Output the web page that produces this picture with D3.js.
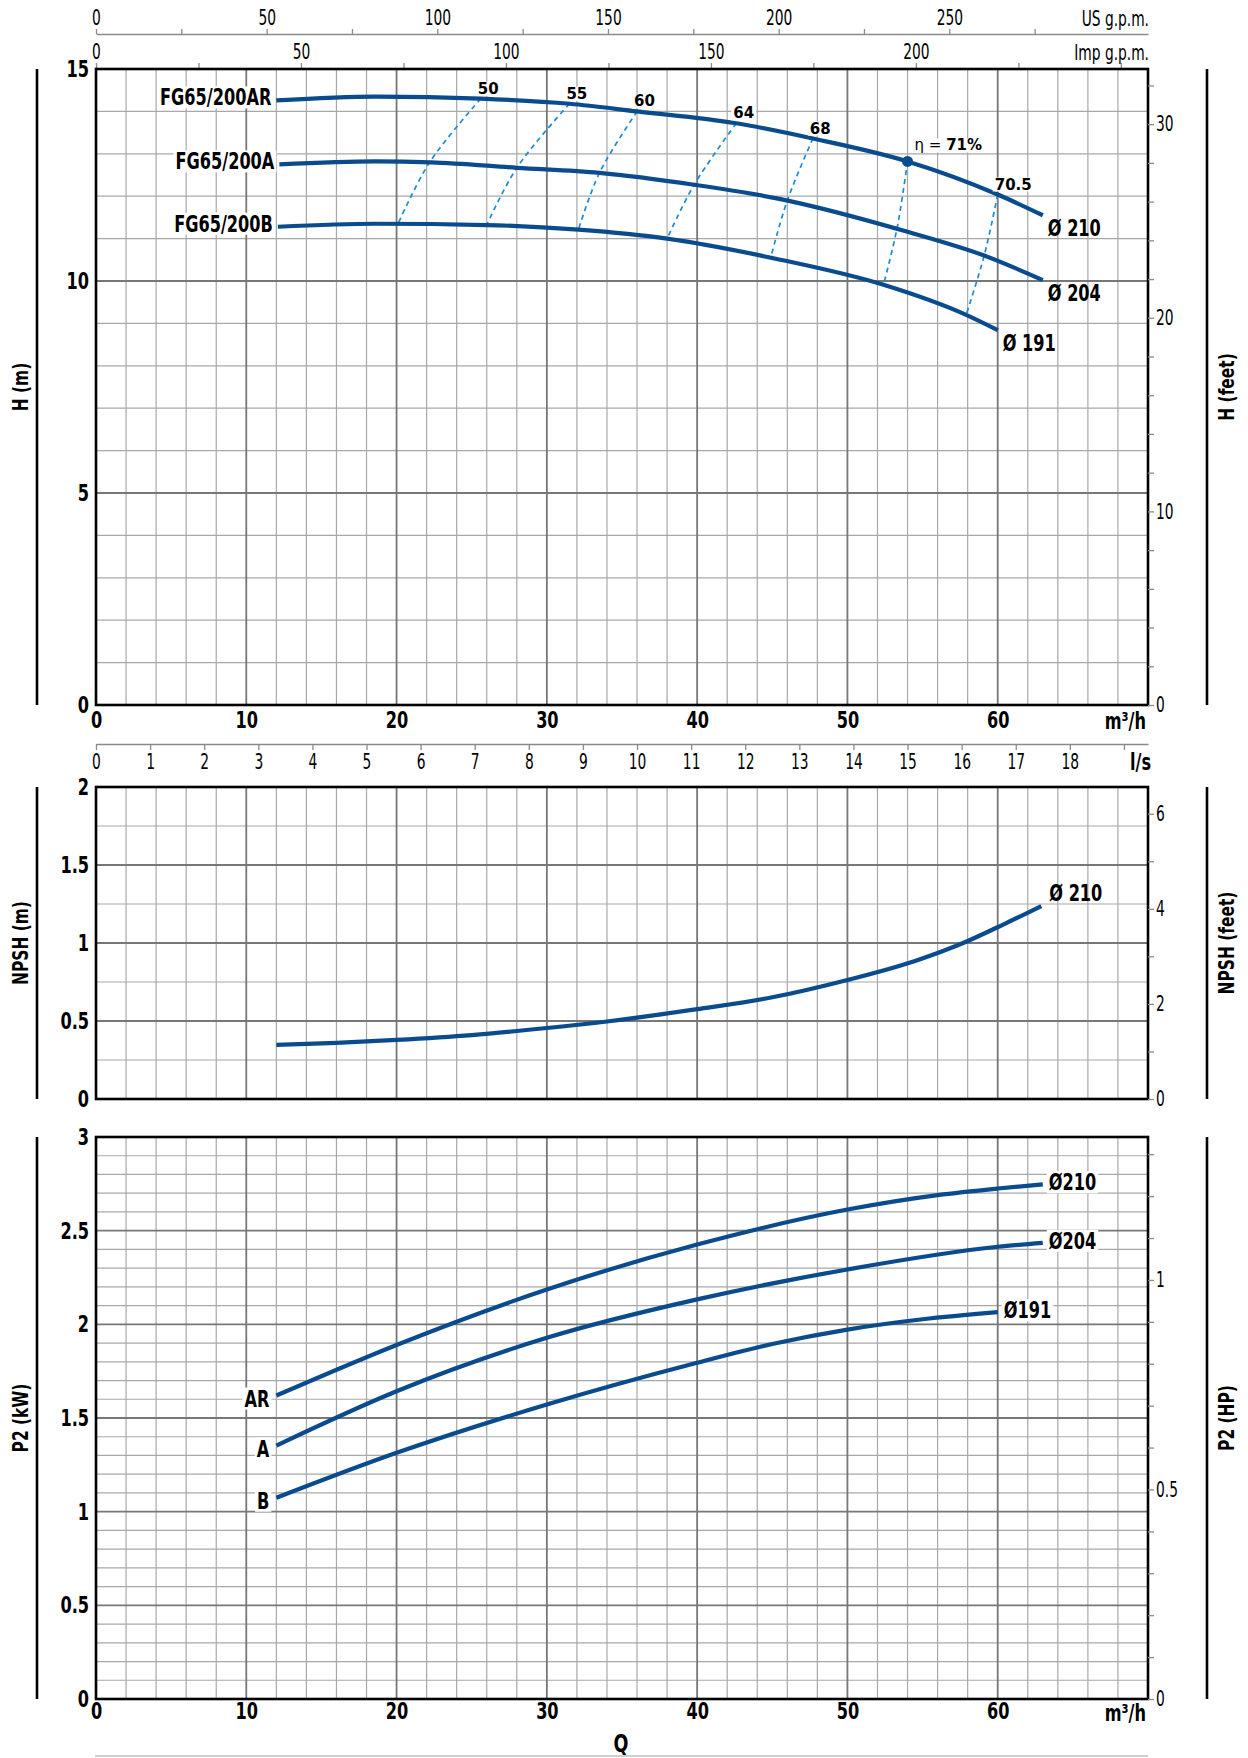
<!DOCTYPE html>
<html>
<head>
<meta charset="utf-8">
<script src="https://cdn.jsdelivr.net/npm/d3@7"></script>
<style>
  body { margin: 0; background: #fff; }
  svg { display: block; }
</style>
</head>
<body>
<div id="chart"></div>
<script>
// ------------------------------------------------ data
// flow axis labels
const qLabels = [0, 10, 20, 30, 40, 50, 60];
const usGpmLabels = [0, 50, 100, 150, 200, 250];
const impGpmLabels = [0, 50, 100, 150, 200];
const lsLabels = d3.range(0, 19);
const hLabels = [0, 5, 10, 15];
const hFtLabels = [0, 10, 20, 30];
const npshLabels = [0, 0.5, 1, 1.5, 2];
const npshFtLabels = [0, 2, 4, 6];
const p2Labels = [0, 0.5, 1, 1.5, 2, 2.5, 3];
const p2HpLabels = [0, 0.5, 1];

// head curves H (m) vs Q (m3/h)
const hQ210 = [12, 18.6, 25.6, 31.5, 36, 42.6, 47.7, 54, 60, 63];
const hH210 = [14.26, 14.35, 14.30, 14.18, 14.0, 13.72, 13.36, 12.82, 12.04, 11.55];
const hQ204 = [12.2, 18.6, 22.3, 28, 33.5, 39.8, 45.3, 54, 59.1, 63];
const hH204 = [12.75, 12.82, 12.80, 12.67, 12.55, 12.27, 11.95, 11.16, 10.6, 10.02];
const hQ191 = [12.1, 18.6, 26, 32.1, 38, 45.3, 52.4, 57.9, 60];
const hH191 = [11.28, 11.35, 11.32, 11.21, 11.0, 10.52, 9.91, 9.2, 8.84];

// iso-efficiency lines: points on 210 / 204 / 191
const effLabels = ["50", "55", "60", "64", "68", "71", "70.5"];
const effQ = [[25.6, 22.2, 20.1], [31.5, 28.0, 26.0], [36.0, 33.5, 32.1], [42.6, 39.8, 38.0],
              [47.7, 46.0, 44.9], [54.0, 53.3, 52.4], [60.0, 59.1, 57.9]];
const effH = [[14.30, 12.80, 11.35], [14.18, 12.67, 11.32], [14.0, 12.55, 11.21], [13.72, 12.27, 11.0],
              [13.36, 11.90, 10.56], [12.82, 11.24, 9.91], [12.04, 10.6, 9.2]];

// NPSH (m)
const npshQ = [12, 16, 20, 25, 30, 34, 40, 45, 50, 54.5, 57.7, 60.4, 62.9];
const npshV = [0.347, 0.36, 0.379, 0.41, 0.455, 0.497, 0.576, 0.652, 0.763, 0.885, 1.0, 1.12, 1.237];

// P2 (kW)
const pQ210 = [12, 20, 30, 40, 50, 56, 60, 63];
const pV210 = [1.62, 1.89, 2.186, 2.426, 2.613, 2.69, 2.725, 2.747];
const pQ204 = [12, 20, 30, 40, 50, 60, 63];
const pV204 = [1.353, 1.643, 1.928, 2.133, 2.293, 2.414, 2.435];
const pQ191 = [12, 20, 30, 40, 45, 50, 55, 60];
const pV191 = [1.074, 1.314, 1.572, 1.795, 1.895, 1.972, 2.027, 2.065];

// ------------------------------------------------ setup
const cond = "'Liberation Sans Narrow', 'Arial Narrow', 'DejaVu Sans Condensed', sans-serif";
const wide = "'DejaVu Sans', Verdana, sans-serif";
const blue = "#0a4b8e";
const lightBlue = "#1b8bd3";

const svg = d3.select("#chart")
  .append("svg")
    .attr("width", 1248)
    .attr("height", 1758);

// scales
const x = d3.scaleLinear().domain([0, 70]).range([96, 1148]);
const usScale = d3.scaleLinear().domain([0, 70 * 4.403]).range([96, 1148]);
const impScale = d3.scaleLinear().domain([0, 70 * 3.666]).range([96, 1148]);
const lsScale = d3.scaleLinear().domain([0, 70 / 3.6]).range([96, 1148]);

const yH = d3.scaleLinear().domain([0, 15]).range([705, 69]);
const yHft = d3.scaleLinear().domain([0, 15 * 2.19]).range([705, 69]);
const yN = d3.scaleLinear().domain([0, 2]).range([1099, 787]);
const yNft = d3.scaleLinear().domain([0, 2 * 3.281]).range([1099, 787]);
const yP = d3.scaleLinear().domain([0, 3]).range([1699, 1137]);
const yPhp = d3.scaleLinear().domain([0, 3 / 2.237]).range([1699, 1137]);

// white boxes behind labels, fitted once the text is squeezed
const boxes = [];

// ------------------------------------------------ helpers
function drawGrid(y, step, majorEvery) {
  const g = svg.append("g");
  const [bottom, top] = y.range();
  const n = Math.round(y.domain()[1] / step);
  const rows = d3.range(1, n).map(i => ({v: i * step, major: i % majorEvery === 0}));
  const cols = d3.range(1, 35).map(i => ({v: i * 2, major: i % 5 === 0}));
  [false, true].forEach(function(maj) {
    g.selectAll(null)
      .data(cols.filter(d => d.major === maj))
      .join("line")
        .attr("x1", d => x(d.v)).attr("x2", d => x(d.v))
        .attr("y1", top).attr("y2", bottom)
        .attr("stroke", maj ? "#777" : "#a8a8a8")
        .attr("stroke-width", maj ? 1.8 : 1.2);
    g.selectAll(null)
      .data(rows.filter(d => d.major === maj))
      .join("line")
        .attr("x1", x(0)).attr("x2", x(70))
        .attr("y1", d => y(d.v)).attr("y2", d => y(d.v))
        .attr("stroke", maj ? "#777" : "#a8a8a8")
        .attr("stroke-width", maj ? 1.8 : 1.2);
  });
}

function drawFrame(y) {
  const [bottom, top] = y.range();
  svg.append("rect")
    .attr("x", x(0)).attr("y", top)
    .attr("width", x(70) - x(0)).attr("height", bottom - top)
    .attr("fill", "none").attr("stroke", "#000").attr("stroke-width", 2.6);
  // the side bars
  [37, 1207].forEach(function(sx) {
    svg.append("line")
      .attr("x1", sx).attr("x2", sx).attr("y1", top).attr("y2", bottom)
      .attr("stroke", "#000").attr("stroke-width", 2.6);
  });
}

function styleAxis(g, family, weight, size) {
  g.attr("font-family", family).attr("font-size", size).attr("font-weight", weight);
  g.selectAll(".tick line").attr("stroke", "#8a8a8a").attr("stroke-width", 1.3);
  g.selectAll("text").attr("fill", "#000");
}

function leftAxis(y, vals) {
  svg.append("g")
    .attr("transform", "translate(89,0)")
    .call(d3.axisLeft(y).tickValues(vals).tickSize(0).tickPadding(0).tickFormat(d => d))
    .call(g => g.select(".domain").remove())
    .call(g => styleAxis(g, cond, "bold", 23));
}

function rightAxis(y, ticks, labels) {
  svg.append("g")
    .attr("transform", "translate(1148,0)")
    .call(d3.axisRight(y).tickValues(ticks).tickSize(6).tickPadding(2)
      .tickFormat(d => labels.some(l => Math.abs(l - d) < 1e-6) ? d : ""))
    .call(g => g.select(".domain").remove())
    .call(g => styleAxis(g, cond, "normal", 21));
}

function axisTitle(px, py, txt, size) {
  svg.append("text")
    .attr("transform", `translate(${px},${py}) rotate(-90)`)
    .attr("text-anchor", "middle")
    .attr("dominant-baseline", "central")
    .attr("font-family", cond).attr("font-weight", "bold").attr("font-size", size)
    .text(txt);
}

function boxedText(px, py, txt, anchor, family, size, weight) {
  const g = svg.append("g");
  const r = g.append("rect").attr("fill", "#fff");
  const t = g.append("text")
    .attr("x", px).attr("y", py)
    .attr("text-anchor", anchor)
    .attr("dominant-baseline", "central")
    .attr("font-family", family).attr("font-size", size).attr("font-weight", weight)
    .text(txt);
  boxes.push([r, t]);
  return t;
}

function curveLine(y, curve) {
  return d3.line().x(d => x(d[0])).y(d => y(d[1])).curve(curve || d3.curveMonotoneX);
}

// ------------------------------------------------ top: gpm scales
svg.append("g")
  .attr("transform", "translate(0,34)")
  .call(d3.axisTop(usScale).tickValues(d3.range(0, 300, 25)).tickSize(5).tickSizeOuter(0).tickPadding(4)
    .tickFormat(d => usGpmLabels.includes(d) ? d : ""))
  .call(g => g.select(".domain").attr("stroke", "#8a8a8a").attr("stroke-width", 1.3))
  .call(g => styleAxis(g, cond, "normal", 21));

svg.append("g")
  .attr("transform", "translate(0,69)")
  .call(d3.axisTop(impScale).tickValues(d3.range(0, 275, 25)).tickSize(6).tickPadding(4)
    .tickFormat(d => impGpmLabels.includes(d) ? d : ""))
  .call(g => g.select(".domain").remove())
  .call(g => styleAxis(g, cond, "normal", 21));

svg.append("text").attr("x", 1149).attr("y", 25.5).attr("text-anchor", "end")
  .attr("font-family", cond).attr("font-size", 21).text("US g.p.m.");
svg.append("text").attr("x", 1149).attr("y", 59.5).attr("text-anchor", "end")
  .attr("font-family", cond).attr("font-size", 21).text("Imp g.p.m.");

// ------------------------------------------------ H chart
drawGrid(yH, 1, 5);

// efficiency lines (dashed)
const effLine = curveLine(yH, d3.curveCatmullRom);
effQ.forEach(function(qs, i) {
  svg.append("path")
    .datum(d3.zip(qs, effH[i]))
    .attr("d", effLine)
    .attr("fill", "none")
    .attr("stroke", lightBlue)
    .attr("stroke-width", 1.7)
    .attr("stroke-dasharray", "5,4");
});

const headCurves = [
  {tag: "FG65/200AR", dia: "Ø 210", q: hQ210, v: hH210},
  {tag: "FG65/200A", dia: "Ø 204", q: hQ204, v: hH204},
  {tag: "FG65/200B", dia: "Ø 191", q: hQ191, v: hH191}
];

headCurves.forEach(function(c) {
  const pts = d3.zip(c.q, c.v);
  svg.append("path")
    .datum(pts)
    .attr("d", curveLine(yH))
    .attr("fill", "none")
    .attr("stroke", blue)
    .attr("stroke-width", 4.2);
  const first = pts[0], last = pts[pts.length - 1];
  boxedText(x(first[0]) - 5, yH(first[1]) - 3, c.tag, "end", cond, 23, "bold");
  svg.append("text")
    .attr("x", x(last[0]) + 5).attr("y", yH(last[1]) + 13)
    .attr("dominant-baseline", "central")
    .attr("font-family", cond).attr("font-size", 23).attr("font-weight", "bold")
    .text(c.dia);
});

// efficiency labels
effLabels.forEach(function(lab, i) {
  const px = x(effQ[i][0]), py = yH(effH[i][0]);
  if (lab === "71") {
    const t = boxedText(px + 7, py - 16, "", "start", wide, 15, "bold");
    t.append("tspan").attr("font-weight", "normal").text("η = ");
    t.append("tspan").text("71%");
    svg.append("circle")
      .attr("cx", px).attr("cy", py).attr("r", 5.5)
      .attr("fill", blue);
  } else {
    boxedText(px - 3, py - 10, lab, "start", wide, 15, "bold");
  }
});

drawFrame(yH);
leftAxis(yH, hLabels);
rightAxis(yHft, d3.range(0, 33, 2), hFtLabels);

// x axis m3/h
svg.append("g")
  .attr("transform", "translate(0,705)")
  .call(d3.axisBottom(x).tickValues(qLabels).tickSize(0).tickPadding(7).tickFormat(d => d))
  .call(g => g.select(".domain").remove())
  .call(g => styleAxis(g, cond, "bold", 23));
svg.append("text").attr("x", 1146).attr("y", 729).attr("text-anchor", "end")
  .attr("font-family", cond).attr("font-size", 23).attr("font-weight", "bold").text("m³/h");

axisTitle(20, 387, "H (m)", 22);
axisTitle(1226, 387, "H (feet)", 22);

// l/s scale
svg.append("g")
  .attr("transform", "translate(0,744)")
  .call(d3.axisBottom(lsScale).tickValues(d3.range(0, 20)).tickSize(6).tickSizeOuter(0).tickPadding(4)
    .tickFormat(d => lsLabels.includes(d) ? d : ""))
  .call(g => g.select(".domain").attr("stroke", "#8a8a8a").attr("stroke-width", 1.3))
  .call(g => styleAxis(g, cond, "normal", 21));
svg.append("text").attr("x", 1151).attr("y", 770).attr("text-anchor", "end")
  .attr("font-family", cond).attr("font-size", 23).attr("font-weight", "bold").text("l/s");

// ------------------------------------------------ NPSH chart
drawGrid(yN, 0.25, 2);
const npshPts = d3.zip(npshQ, npshV);
svg.append("path")
  .datum(npshPts)
  .attr("d", curveLine(yN))
  .attr("fill", "none")
  .attr("stroke", blue)
  .attr("stroke-width", 4.2);
const nLast = npshPts[npshPts.length - 1];
svg.append("text")
  .attr("x", x(nLast[0]) + 8).attr("y", yN(nLast[1]) - 13)
  .attr("dominant-baseline", "central")
  .attr("font-family", cond).attr("font-size", 23).attr("font-weight", "bold")
  .text("Ø 210");

drawFrame(yN);
leftAxis(yN, npshLabels);
rightAxis(yNft, d3.range(0, 7), npshFtLabels);
axisTitle(20, 943, "NPSH (m)", 22);
axisTitle(1226, 943, "NPSH (feet)", 22);

// ------------------------------------------------ P2 chart
drawGrid(yP, 0.1, 5);

const powerCurves = [
  {tag: "AR", dia: "Ø210", q: pQ210, v: pV210},
  {tag: "A", dia: "Ø204", q: pQ204, v: pV204},
  {tag: "B", dia: "Ø191", q: pQ191, v: pV191}
];

powerCurves.forEach(function(c) {
  const pts = d3.zip(c.q, c.v);
  svg.append("path")
    .datum(pts)
    .attr("d", curveLine(yP))
    .attr("fill", "none")
    .attr("stroke", blue)
    .attr("stroke-width", 4.2);
  const first = pts[0], last = pts[pts.length - 1];
  boxedText(x(first[0]) - 7, yP(first[1]) + 3, c.tag, "end", cond, 23, "bold");
  boxedText(x(last[0]) + 6, yP(last[1]) - 2, c.dia, "start", cond, 23, "bold");
});

drawFrame(yP);
leftAxis(yP, p2Labels);
rightAxis(yPhp, d3.range(0, 14).map(i => i / 10), p2HpLabels);

svg.append("g")
  .attr("transform", "translate(0,1699)")
  .call(d3.axisBottom(x).tickValues(qLabels).tickSize(0).tickPadding(4).tickFormat(d => d))
  .call(g => g.select(".domain").remove())
  .call(g => styleAxis(g, cond, "bold", 23));
svg.append("text").attr("x", 1146).attr("y", 1721).attr("text-anchor", "end")
  .attr("font-family", cond).attr("font-size", 23).attr("font-weight", "bold").text("m³/h");

axisTitle(20, 1418, "P2 (kW)", 22);
axisTitle(1226, 1418, "P2 (HP)", 22);

// Q title and bottom rule
svg.append("text").attr("x", 621).attr("y", 1743)
  .attr("text-anchor", "middle").attr("dominant-baseline", "central")
  .attr("font-family", cond).attr("font-size", 25).attr("font-weight", "bold").text("Q");
svg.append("line")
  .attr("x1", 95).attr("x2", 1148).attr("y1", 1756).attr("y2", 1756)
  .attr("stroke", "#cfcfcf").attr("stroke-width", 2);

// ------------------------------------------------ squeeze the condensed texts
// (no narrow face installed, so compress the glyphs horizontally)
svg.selectAll("text").each(function() {
  const cs = getComputedStyle(this);
  if (!cs.fontFamily.includes("Liberation Sans Narrow")) return;
  const len = this.getComputedTextLength();
  if (!len) return;
  const bold = +cs.fontWeight >= 600;
  d3.select(this)
    .attr("textLength", len * (bold ? 0.78 : 0.73))
    .attr("lengthAdjust", "spacingAndGlyphs");
});

boxes.forEach(function([r, t]) {
  const b = t.node().getBBox();
  r.attr("x", b.x - 2).attr("y", b.y + 2).attr("width", b.width + 4).attr("height", b.height - 4);
});
</script>
</body>
</html>
